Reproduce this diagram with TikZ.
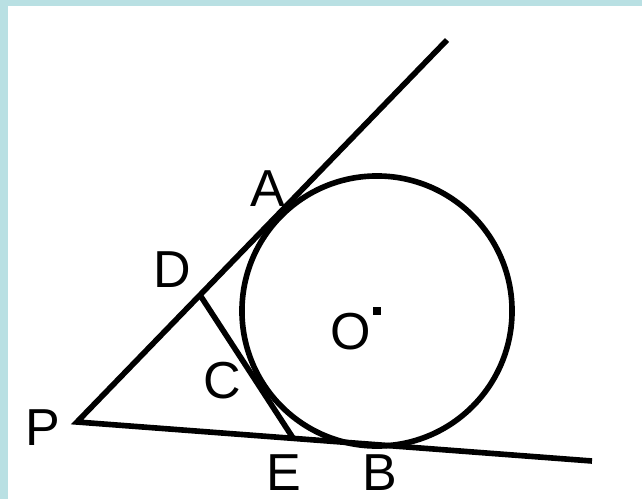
\documentclass[tikz,border=0pt]{standalone}
\usepackage{fontspec}
\setmainfont{Liberation Sans}
\usepackage{xcolor}
\definecolor{marco}{RGB}{185,224,227}

\begin{document}
\begin{tikzpicture}[x=0.025cm,y=-0.025cm,
    linea/.style={line width=4pt},
    etiqueta/.style={font=\fontsize{37}{44}\selectfont, inner sep=0pt}]
  \def\radio{3.375cm}
  \fill[marco] (0,0) rectangle (642,499);
  \fill[white] (8,6) rectangle (642,499);
  \useasboundingbox (0,0) rectangle (642,499);
  % puntos de la figura
  \coordinate (P) at (77,422);
  \coordinate (T1) at (447,40);
  \coordinate (T2) at (592,461);
  \coordinate (D) at (200,295);
  \coordinate (E) at (293,438);
  \node[fill=black, inner sep=0pt, minimum size=0.2cm] (O) at (377,311) {};
  % tangentes y circunferencia
  \draw[linea] (T1) -- (P) -- (T2);
  \draw[linea] (O.center) circle[radius=\radio];
  \draw[linea] (D) -- (E);
  % letras
  \node[etiqueta] (lA) at (268,189) {A};
  \node[etiqueta] (lD) at (172,270) {D};
  \node[etiqueta] (lC) at (222,381) {C};
  \node[etiqueta] (lO) at (351,332) {O};
  \node[etiqueta] (lP) at (43,428) {P};
  \node[etiqueta] (lE) at (284,473) {E};
  \node[etiqueta] (lB) at (380,473) {B};
\end{tikzpicture}
\end{document}
